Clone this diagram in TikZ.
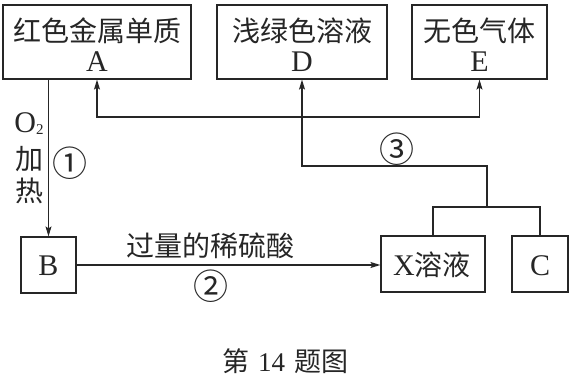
\documentclass[tikz,border=0pt]{standalone}
\usepackage{fontspec}
\setmainfont{Liberation Serif}
\newfontfamily\cjk{Noto Sans CJK SC}
\usetikzlibrary{arrows.meta}
\begin{document}
\begin{tikzpicture}[x=1pt,y=-1pt,
  ink/.style={draw=black!85,line width=1.2pt},
  box/.style={ink, rectangle, inner sep=0pt},
  lab/.style={text=black!85, inner sep=0pt, font=\fontsize{30}{32}\selectfont},
  zh/.style={text=black!85, inner sep=0pt, font=\fontsize{28}{30}\selectfont\cjk},
  circ/.style={text=black!85, inner sep=0pt, font=\fontsize{35}{36}\selectfont\cjk},
  captxt/.style={text=black!85, inner sep=0pt, font=\fontsize{27}{30}\selectfont},
  arr/.style={ink, -{Stealth[length=10pt,width=6pt,inset=2pt]}},
]
\useasboundingbox (0,0) rectangle (573,377);
% boxes
\node[box, minimum width=188pt, minimum height=74pt] (A) at (97,42) {};
\node[box, minimum width=170pt, minimum height=74pt] (D) at (302,42) {};
\node[box, minimum width=135pt, minimum height=74pt] (E) at (479.5,42) {};
\node[box, minimum width=55pt, minimum height=56pt] (B) at (48.5,265) {};
\node[box, minimum width=104pt, minimum height=56pt] (X) at (433,264) {};
\node[box, minimum width=56pt, minimum height=56pt] (C) at (540,264) {};
% box texts
\node[zh, anchor=base] (a1) at (97,42) {红色金属单质};
\node[lab, anchor=base] (a2) at (97,72) {A};
\node[zh, anchor=base] (d1) at (302,42) {浅绿色溶液};
\node[lab, anchor=base] (d2) at (302,72) {D};
\node[zh, anchor=base] (e1) at (479.5,42) {无色气体};
\node[lab, anchor=base] (e2) at (479.5,72) {E};
\node[lab, anchor=base] (b1) at (48.5,275) {B};
\node[lab, anchor=base] (x1) at (432,275) {X{\cjk\fontsize{28}{30}\selectfont 溶液}};
\node[lab, anchor=base] (c1) at (540,275) {C};
% connectors
\draw[arr] (B.north |- A.south) -- (B.north);
\draw[arr] (B.east) -- (B.east -| X.west);
\coordinate (m) at (487,207);
\coordinate (p) at (487,166);
\draw[ink] (X.north) -- (X.north |- m) -- (C.north |- m) -- (C.north);
\draw[arr] (m) -- (p) -- (D.south |- p) -- (D.south);
\coordinate (q) at (302,117);
\draw[arr] (q) -| (A.south);
\draw[arr] (q) -| (E.south);
% labels
\node[lab, anchor=base] (o2) at (29,133) {O\raisebox{-1.5pt}{\fontsize{15}{15}\selectfont 2}};
\node[zh] (jia) at (29,159) {加};
\node[zh] (re) at (29,191) {热};
\node[circ] (n1) at (70,163) {①};
\node[zh] (acid) at (210,246) {过量的稀硫酸};
\node[circ] (n2) at (211,286) {②};
\node[circ] (n3) at (397,149) {③};
\node[captxt, anchor=base] (capt) at (285,371) {{\cjk 第}\hspace{9pt}14\hspace{9pt}{\cjk 题图}};
\end{tikzpicture}
\end{document}
